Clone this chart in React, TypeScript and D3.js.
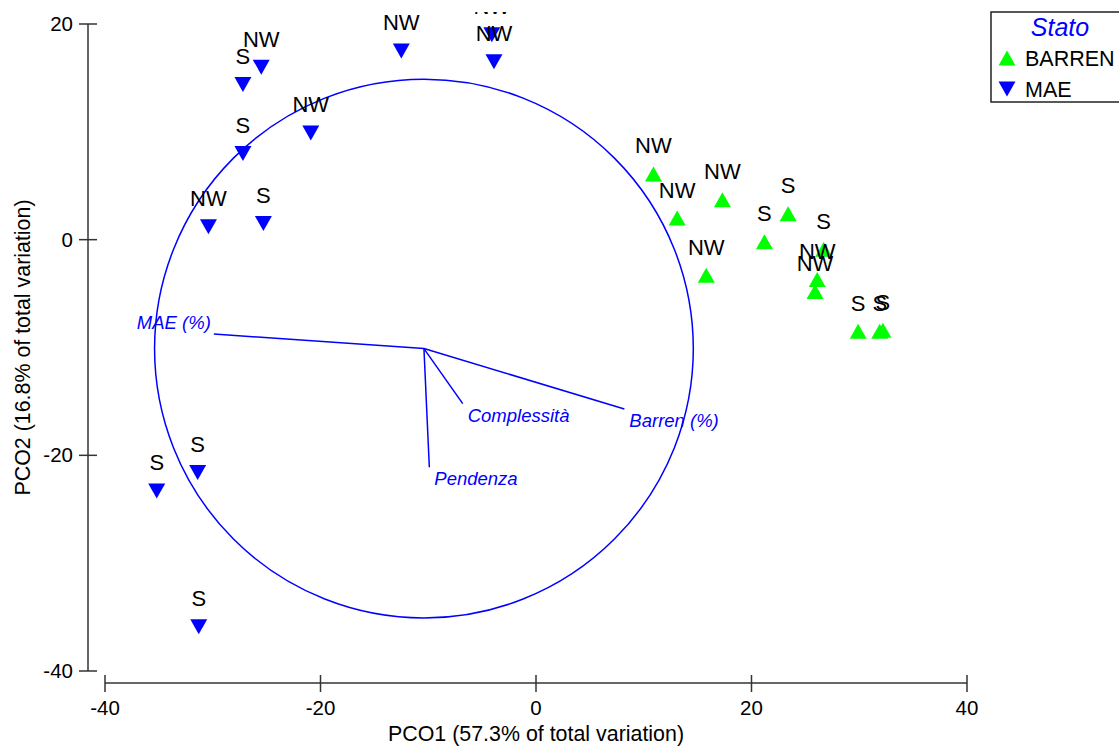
import { useRef, useEffect } from 'react'
import * as d3 from 'd3'

// MAE samples (blue, pointing down)
const maeX = [-27.2, -25.5, -12.5, -4.1, -3.9, -20.9, -27.2, -30.4, -25.3, -35.2, -31.4, -31.3]
const maeY = [14.4, 16.0, 17.5, 19.0, 16.5, 9.9, 8.0, 1.2, 1.5, -23.3, -21.6, -35.9]
const maeLabels = ['S', 'NW', 'NW', 'NW', 'NW', 'NW', 'S', 'NW', 'S', 'S', 'S', 'S']

// BARREN samples (green, pointing up)
const barrenX = [10.9, 13.1, 17.3, 15.8, 21.2, 23.4, 26.7, 26.1, 25.9, 29.9, 31.9, 32.2]
const barrenY = [6.1, 2.0, 3.7, -3.3, -0.2, 2.4, -0.9, -3.7, -4.8, -8.5, -8.5, -8.4]
const barrenLabels = ['NW', 'NW', 'NW', 'NW', 'S', 'S', 'S', 'NW', 'NW', 'S', 'S', 'S']

// vector overlay
const vectorNames = ['MAE (%)', 'Barren (%)', 'Complessità', 'Pendenza']
const vectorX = [-29.9, 8.2, -6.8, -9.9]
const vectorY = [-8.75, -15.7, -15.2, -21.1]
const vectorOrigin = [-10.4, -10.1]
const circleRadius = 25

const xTicks = [-40, -20, 0, 20, 40]
const yTicks = [20, 0, -20, -40]

const legendNames = ['BARREN', 'MAE']

const BLUE = '#0000ff'
const GREEN = '#00ff00'
const AXIS = '#333'
const FONT = '"Liberation Sans", Arial, Helvetica, sans-serif'

const triUp = 'M0,-7.5L8.5,7.5L-8.5,7.5Z'
const triDown = 'M-8.5,-7.5L8.5,-7.5L0,7.5Z'

function drawChart(target) {
  const svg = d3.select(target)
  svg.selectAll('*').remove()

  const xScale = d3.scaleLinear().domain([-40, 40]).range([105, 967])
  const yScale = d3.scaleLinear().domain([-40, 20]).range([671, 24])
  const axisX = 88
  const axisY = 683

  svg
    .append('defs')
    .append('clipPath')
    .attr('id', 'plot-clip')
    .append('rect')
    .attr('x', 0)
    .attr('y', 12)
    .attr('width', 1119)
    .attr('height', 735)

  // axes
  const axes = svg.append('g').attr('stroke', AXIS).attr('stroke-width', 1.5)
  axes.append('line').attr('x1', axisX).attr('x2', axisX).attr('y1', yScale(20)).attr('y2', yScale(-40))
  axes.append('line').attr('x1', xScale(-40)).attr('x2', xScale(40)).attr('y1', axisY).attr('y2', axisY)
  axes
    .selectAll('.ytick')
    .data(yTicks)
    .enter()
    .append('line')
    .attr('x1', axisX - 9)
    .attr('x2', axisX + 9)
    .attr('y1', (d) => yScale(d))
    .attr('y2', (d) => yScale(d))
  axes
    .selectAll('.xtick')
    .data(xTicks)
    .enter()
    .append('line')
    .attr('x1', (d) => xScale(d))
    .attr('x2', (d) => xScale(d))
    .attr('y1', axisY - 8)
    .attr('y2', axisY + 9)

  const labels = svg.append('g').attr('font-family', FONT).attr('font-size', 20.5).attr('fill', '#000')
  labels
    .selectAll('.ylab')
    .data(yTicks)
    .enter()
    .append('text')
    .attr('x', axisX - 15)
    .attr('y', (d) => yScale(d) + 7)
    .attr('text-anchor', 'end')
    .text((d) => d)
  labels
    .selectAll('.xlab')
    .data(xTicks)
    .enter()
    .append('text')
    .attr('x', (d) => xScale(d))
    .attr('y', 715)
    .attr('text-anchor', 'middle')
    .text((d) => d)
  labels
    .append('text')
    .attr('x', xScale(0))
    .attr('y', 741)
    .attr('text-anchor', 'middle')
    .attr('font-size', 21.4)
    .text('PCO1 (57.3% of total variation)')
  labels
    .append('text')
    .attr('transform', `translate(30, ${(yScale(20) + yScale(-40)) / 2}) rotate(-90)`)
    .attr('text-anchor', 'middle')
    .attr('font-size', 21.4)
    .text('PCO2 (16.8% of total variation)')

  // correlation circle + vectors
  const ox = xScale(vectorOrigin[0])
  const oy = yScale(vectorOrigin[1])
  svg
    .append('circle')
    .attr('cx', ox)
    .attr('cy', oy)
    .attr('r', xScale(circleRadius) - xScale(0))
    .attr('fill', 'none')
    .attr('stroke', BLUE)
    .attr('stroke-width', 1.5)

  const vec = svg.append('g')
  vectorNames.forEach((name, i) => {
    const ex = xScale(vectorX[i])
    const ey = yScale(vectorY[i])
    vec
      .append('line')
      .attr('x1', ox)
      .attr('y1', oy)
      .attr('x2', ex)
      .attr('y2', ey)
      .attr('stroke', BLUE)
      .attr('stroke-width', 1.5)
    const left = ex < ox
    vec
      .append('text')
      .attr('x', left ? ex - 3 : ex + 5)
      .attr('y', left ? ey - 5 : ey + 18)
      .attr('text-anchor', left ? 'end' : 'start')
      .attr('font-family', FONT)
      .attr('font-style', 'italic')
      .attr('font-size', 18.5)
      .attr('fill', BLUE)
      .text(name)
  })

  // samples
  const pts = svg.append('g').attr('clip-path', 'url(#plot-clip)')
  const drawGroup = (xs, ys, labs, path, color) => {
    xs.forEach((x, i) => {
      const px = xScale(x)
      const py = yScale(ys[i])
      pts.append('path').attr('d', path).attr('transform', `translate(${px},${py})`).attr('fill', color)
      pts
        .append('text')
        .attr('x', px)
        .attr('y', py - 20.5)
        .attr('text-anchor', 'middle')
        .attr('font-family', FONT)
        .attr('font-size', 22)
        .attr('fill', '#000')
        .text(labs[i])
    })
  }
  drawGroup(barrenX, barrenY, barrenLabels, triUp, GREEN)
  drawGroup(maeX, maeY, maeLabels, triDown, BLUE)

  // legend
  const legend = svg.append('g')
  legend
    .append('rect')
    .attr('x', 991)
    .attr('y', 12)
    .attr('width', 140)
    .attr('height', 90)
    .attr('fill', '#fff')
    .attr('stroke', '#222')
    .attr('stroke-width', 1.5)
  legend
    .append('text')
    .attr('x', 1060)
    .attr('y', 36)
    .attr('text-anchor', 'middle')
    .attr('font-family', FONT)
    .attr('font-style', 'italic')
    .attr('font-size', 25)
    .attr('fill', BLUE)
    .text('Stato')
  legendNames.forEach((name, i) => {
    const ly = 58 + i * 31
    legend
      .append('path')
      .attr('d', i === 0 ? triUp : triDown)
      .attr('transform', `translate(1007,${ly})`)
      .attr('fill', i === 0 ? GREEN : BLUE)
    legend
      .append('text')
      .attr('x', 1025)
      .attr('y', ly + 8)
      .attr('font-family', FONT)
      .attr('font-size', 21.5)
      .attr('fill', '#000')
      .text(name)
  })
}

export default function App() {
  const targetSVG = useRef(null)

  useEffect(() => {
    drawChart(targetSVG.current)
  }, [])

  return (
    <div style={{ position: 'absolute', left: 0, top: 0, background: '#fff' }}>
      <svg ref={targetSVG} width={1119} height={747} style={{ display: 'block' }} />
    </div>
  )
}
